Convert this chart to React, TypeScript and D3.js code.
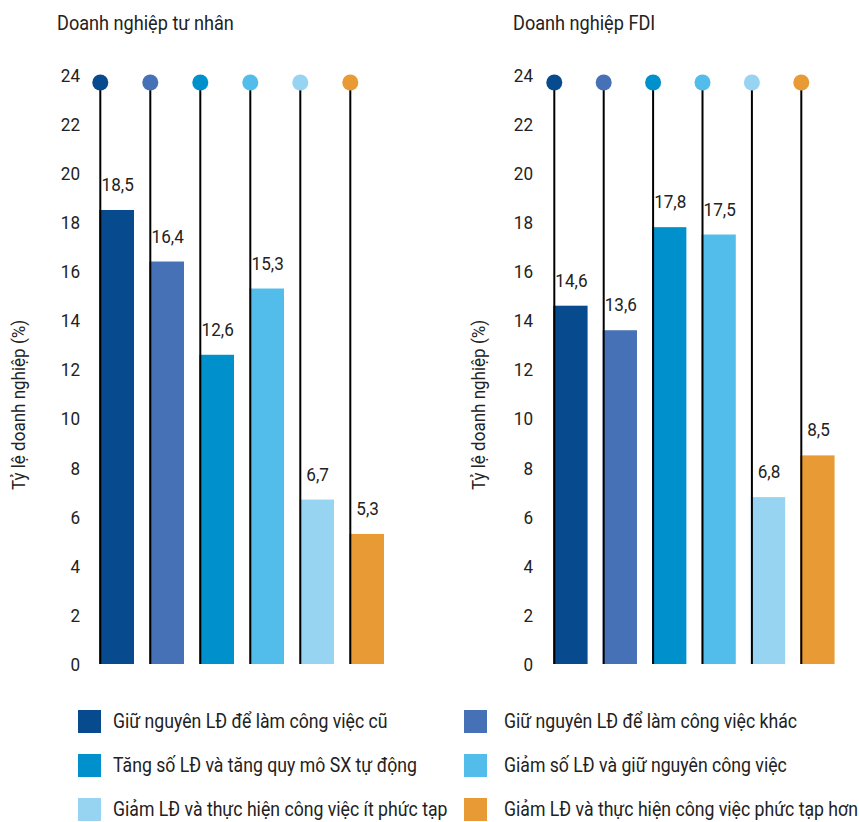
import React from "react";
import * as d3 from "d3";

const categories = [
  "Giữ nguyên LĐ để làm công việc cũ",
  "Giữ nguyên LĐ để làm công việc khác",
  "Tăng số LĐ và tăng quy mô SX tự động",
  "Giảm số LĐ và giữ nguyên công việc",
  "Giảm LĐ và thực hiện công việc ít phức tạp",
  "Giảm LĐ và thực hiện công việc phức tạp hơn",
];
const colors = ["#084a8e", "#4771b7", "#0091cd", "#52bdeb", "#97d4f2", "#e89a35"];
const privateValues = [18.5, 16.4, 12.6, 15.3, 6.7, 5.3];
const fdiValues = [14.6, 13.6, 17.8, 17.5, 6.8, 8.5];
const yTicks = [0, 2, 4, 6, 8, 10, 12, 14, 16, 18, 20, 22, 24];
const panelTitles = ["Doanh nghiệp tư nhân", "Doanh nghiệp FDI"];
const yAxisTitle = "Tỷ lệ doanh nghiệp (%)";
const legendOrder = [0, 1, 2, 3, 4, 5];

const FONT = "Roboto, 'Noto Sans', sans-serif";
const TEXT = "#222";

const y = d3.scaleLinear().domain([0, 24]).range([664, 75]);

function Panel({ values, title, x0, step, tickX, titleX, labelX }: any) {
  const n = categories.length;
  const pad = 0.306;
  const x = d3
    .scaleBand<string>()
    .domain(categories)
    .range([x0, x0 + step * (n - pad)])
    .paddingInner(pad)
    .paddingOuter(0);
  const sx = 0.9;
  return (
    <g>
      <text
        transform={`translate(${titleX},30) scale(0.93,1)`}
        fontSize={19.5}
        fill={TEXT}
        fontFamily={FONT}
      >
        {title}
      </text>
      <text
        transform={`translate(${labelX},405) rotate(-90) scale(0.92,1)`}
        textAnchor="middle"
        fontSize={18.5}
        fill={TEXT}
        fontFamily={FONT}
      >
        {yAxisTitle}
      </text>
      {yTicks.map((t) => (
        <text
          key={t}
          transform={`translate(${tickX},${y(t)}) scale(${sx},1)`}
          dy="0.36em"
          textAnchor="end"
          fontSize={19}
          fill={TEXT}
          fontFamily={FONT}
        >
          {t}
        </text>
      ))}
      {categories.map((c, i) => {
        const bx = x(c)!;
        const bw = x.bandwidth();
        const v = values[i];
        return (
          <g key={c}>
            <rect x={bx} y={y(v)} width={bw} height={y(0) - y(v)} fill={colors[i]} />
            <line x1={bx + 1} x2={bx + 1} y1={82.5} y2={y(0)} stroke="#000" strokeWidth={2} />
            <circle cx={bx + 1} cy={82.5} r={8} fill={colors[i]} />
            <text
              transform={`translate(${bx + bw / 2 + 1},${y(v) - 19}) scale(${sx},1)`}
              textAnchor="middle"
              fontSize={19}
              fill={TEXT}
              fontFamily={FONT}
            >
              {String(v).replace(".", ",")}
            </text>
          </g>
        );
      })}
    </g>
  );
}

export default function App() {
  const legendCols = [78, 464];
  const legendTextOffset = [35, 40];
  const legendRows = [710, 754, 798];
  return (
    <svg width={859} height={822} style={{ position: "absolute", left: 0, top: 0, background: "#fff" }}>
      <Panel values={privateValues} title={panelTitles[0]} x0={99.3} step={50} tickX={80} titleX={57} labelX={25} />
      <Panel values={fdiValues} title={panelTitles[1]} x0={553.3} step={49.4} tickX={533} titleX={513} labelX={485} />
      {legendOrder.map((i) => {
        const col = i % 2;
        const row = Math.floor(i / 2);
        const lx = legendCols[col];
        const ly = legendRows[row];
        return (
          <g key={i}>
            <rect x={lx} y={ly} width={23} height={23} fill={colors[i]} />
            <text
              transform={`translate(${lx + legendTextOffset[col]},${ly + 11.5}) scale(0.915,1)`}
              dy="0.36em"
              fontSize={19.3}
              fill={TEXT}
              fontFamily={FONT}
            >
              {categories[i]}
            </text>
          </g>
        );
      })}
    </svg>
  );
}
